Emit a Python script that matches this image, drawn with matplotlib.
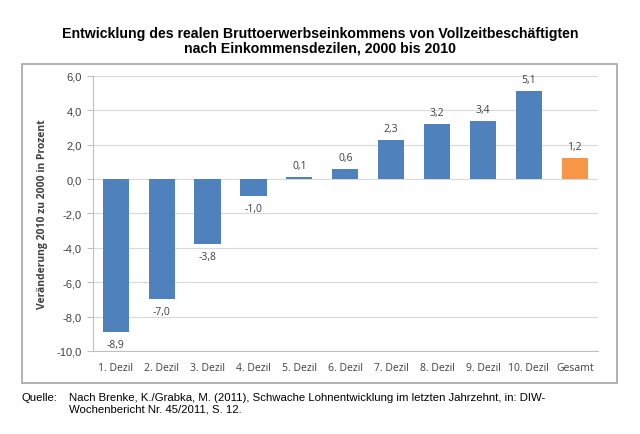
import matplotlib.pyplot as plt
from matplotlib.patches import Rectangle

# Daten
categories = ["1. Dezil", "2. Dezil", "3. Dezil", "4. Dezil", "5. Dezil", "6. Dezil",
              "7. Dezil", "8. Dezil", "9. Dezil", "10. Dezil", "Gesamt"]
values = [-8.9, -7.0, -3.8, -1.0, 0.1, 0.6, 2.3, 3.2, 3.4, 5.1, 1.2]
colors = ["#4F81BD"] * 10 + ["#F79646"]
yticks = [-10, -8, -6, -4, -2, 0, 2, 4, 6]

title = ("Entwicklung des realen Bruttoerwerbseinkommens von Vollzeitbeschäftigten\n"
         "nach Einkommensdezilen, 2000 bis 2010")
ylabel = "Veränderung 2010 zu 2000 in Prozent"
source_head = "Quelle:"
source_text = ("Nach Brenke, K./Grabka, M. (2011), Schwache Lohnentwicklung im letzten Jahrzehnt, in: DIW-\n"
               "Wochenbericht Nr. 45/2011, S. 12.")


def fmt(v):
    return f"{v:.1f}".replace(".", ",")


fig = plt.figure(figsize=(6.4, 4.35), dpi=100)
fig.patch.set_facecolor("white")

# Rahmen um das Diagramm
fig.patches.append(Rectangle((0.034, 0.117), 0.930, 0.734, transform=fig.transFigure,
                             fill=False, edgecolor="#A6A6A6", linewidth=1.2))

ax = fig.add_axes([0.145, 0.191, 0.789, 0.632])
x = range(len(categories))
bars = ax.bar(x, values, width=0.57, color=colors, zorder=3)

ax.set_ylim(-10, 6)
ax.set_xlim(-0.5, len(categories) - 0.5)
ax.set_yticks(yticks)
ax.set_yticklabels([fmt(t) for t in yticks], fontsize=8, color="#404040",
                   family="Liberation Sans")
ax.set_xticks(list(x))
ax.set_xticklabels(categories, fontsize=7.5, color="#404040", family="Open Sans")
ax.tick_params(axis="x", length=0, pad=8)
ax.tick_params(axis="y", length=4, color="#BFBFBF", pad=4)
ax.grid(axis="y", color="#D9D9D9", linewidth=0.8, zorder=0)

for s in ["top", "right"]:
    ax.spines[s].set_visible(False)
ax.spines["left"].set_color("#BFBFBF")
ax.spines["bottom"].set_color("#BFBFBF")

for xi, v in zip(x, values):
    if v >= 0:
        ax.text(xi, v + 0.35, fmt(v), ha="center", va="bottom", fontsize=7.5,
                color="#404040", family="Open Sans")
    else:
        ax.text(xi, v - 0.4, fmt(v), ha="center", va="top", fontsize=7.5,
                color="#404040", family="Open Sans")

ax.set_ylabel(ylabel, fontsize=7.5, fontweight="bold", color="#404040",
              family="Open Sans", labelpad=6)

fig.text(0.5, 0.905, title, ha="center", va="center", fontsize=10.2,
         fontweight="bold", family="Liberation Sans", linespacing=1.05)

fig.text(0.034, 0.097, source_head, ha="left", va="top", fontsize=8.2,
         family="Liberation Sans")
fig.text(0.108, 0.097, source_text, ha="left", va="top", fontsize=8.2,
         family="Liberation Sans", linespacing=1.15)

fig.savefig("out.png", dpi=100)
